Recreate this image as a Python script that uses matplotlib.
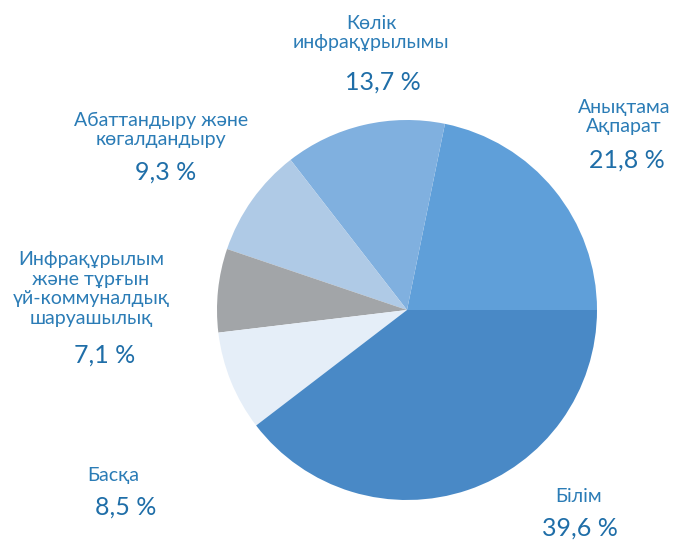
import matplotlib
matplotlib.use("Agg")
import matplotlib.pyplot as plt

labels = ["Анықтама\nАқпарат", "Көлік\nинфрақұрылымы", "Абаттандыру және\nкөгалдандыру",
          "Инфрақұрылым\nжәне тұрғын\nүй-коммуналдық\nшаруашылық", "Басқа", "Білім"]
values = [21.8, 13.7, 9.3, 7.1, 8.5, 39.6]
pct_text = ["21,8 %", "13,7 %", "9,3 %", "7,1 %", "8,5 %", "39,6 %"]
colors = ["#5f9fd9", "#80b0df", "#afcae6", "#a2a5a8", "#e5eef8", "#4989c6"]

# label anchor (x, y in pixels from top-left), percent anchor
label_pos = [(624, 117), (371, 33), (161, 130), (91, 289), (113, 475), (579, 496)]
pct_pos = [(627, 160), (383, 82), (166, 172), (105, 355), (126, 507), (580, 528)]

W, H = 674, 540
fig = plt.figure(figsize=(W / 100, H / 100), dpi=100)
ax = fig.add_axes([0, 0, 1, 1])

ax.pie(values, colors=colors, startangle=0, counterclock=True,
       center=(407, H - 310), radius=190, frame=True,
       wedgeprops=dict(linewidth=0))
ax.set_xlim(0, W)
ax.set_ylim(0, H)
ax.set_aspect("equal")
ax.axis("off")

for lab, (x, y) in zip(labels, label_pos):
    ax.text(x, H - y, lab, ha="center", va="center", fontsize=14,
            color="#2b7cb6", family="Lato", linespacing=1.2)
for p, (x, y) in zip(pct_text, pct_pos):
    ax.text(x, H - y, p, ha="center", va="center", fontsize=18,
            color="#1f6ea8", family="Lato")

fig.savefig("out.png", dpi=100)
